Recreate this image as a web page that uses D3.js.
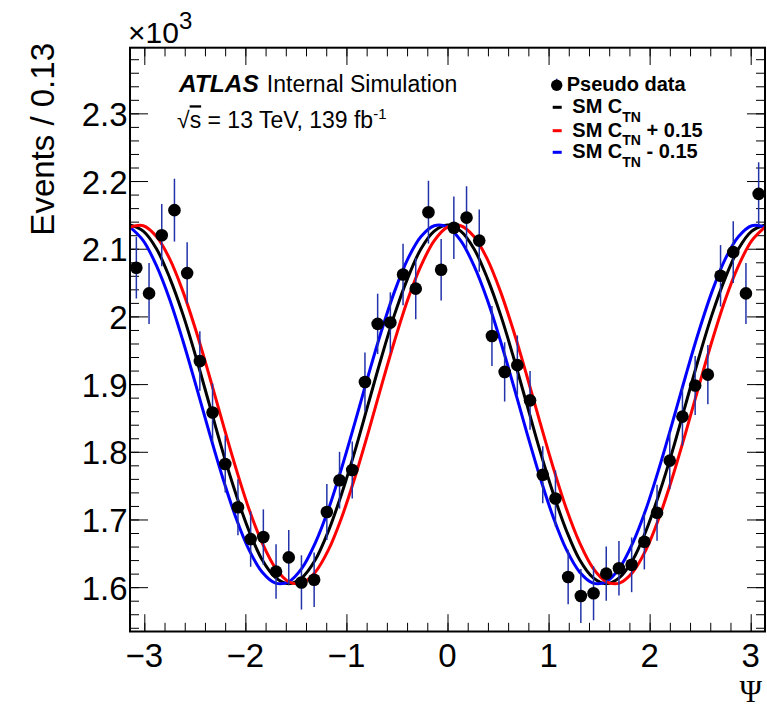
<!DOCTYPE html>
<html lang="en">
  <head>
    <meta charset="UTF-8" />
    <title>Psi distribution</title>
    <script src="https://d3js.org/d3.v7.min.js"></script>
    <style>
      body { margin: 0; background: #fff; }
      svg text { font-family: 'Liberation Sans', Arial, Helvetica, sans-serif; fill: #000; }
      .axis path { display: none; }
      .axis line { stroke: #000; stroke-width: 1; }
    </style>
  </head>
  <body>
    <svg id="chart"></svg>

    <script>
      // pseudo data, 50 bins over [-pi, pi], in units of 10^3 events
      let dataCounts = [
        2.072, 2.034, 2.120, 2.157, 2.064, 1.934, 1.858, 1.782, 1.718, 1.671,
        1.674, 1.623, 1.644, 1.607, 1.611, 1.711, 1.758, 1.773, 1.903, 1.989,
        1.991, 2.062, 2.041, 2.154, 2.069, 2.131, 2.146, 2.112, 1.971, 1.918,
        1.928, 1.876, 1.766, 1.731, 1.615, 1.587, 1.591, 1.620, 1.628, 1.633,
        1.667, 1.710, 1.787, 1.852, 1.898, 1.914, 2.060, 2.095, 2.034, 2.181
      ]

      // templates, 49 samples from -pi to pi
      let smCurve = [
        2.135, 2.126, 2.100, 2.057, 2.003, 1.939, 1.870, 1.801, 1.738, 1.683,
        1.640, 1.614, 1.605, 1.614, 1.640, 1.683, 1.738, 1.801, 1.870, 1.939,
        2.003, 2.057, 2.100, 2.126, 2.135, 2.126, 2.100, 2.057, 2.003, 1.939,
        1.870, 1.801, 1.738, 1.683, 1.640, 1.614, 1.605, 1.614, 1.640, 1.683,
        1.738, 1.801, 1.870, 1.939, 2.003, 2.057, 2.100, 2.126, 2.135
      ]
      let smPlusCurve = [
        2.132, 2.134, 2.118, 2.085, 2.037, 1.978, 1.912, 1.843, 1.776, 1.715,
        1.665, 1.628, 1.608, 1.606, 1.622, 1.655, 1.703, 1.762, 1.828, 1.897,
        1.964, 2.025, 2.075, 2.112, 2.132, 2.134, 2.118, 2.085, 2.037, 1.978,
        1.912, 1.843, 1.776, 1.715, 1.665, 1.628, 1.608, 1.606, 1.622, 1.655,
        1.703, 1.762, 1.828, 1.897, 1.964, 2.025, 2.075, 2.112, 2.132
      ]
      let smMinusCurve = [
        2.132, 2.112, 2.075, 2.025, 1.964, 1.897, 1.828, 1.762, 1.703, 1.655,
        1.622, 1.606, 1.608, 1.628, 1.665, 1.715, 1.776, 1.843, 1.912, 1.978,
        2.037, 2.085, 2.118, 2.134, 2.132, 2.112, 2.075, 2.025, 1.964, 1.897,
        1.828, 1.762, 1.703, 1.655, 1.622, 1.606, 1.608, 1.628, 1.665, 1.715,
        1.776, 1.843, 1.912, 1.978, 2.037, 2.085, 2.118, 2.134, 2.132
      ]

      let xTicks = [-3, -2, -1, 0, 1, 2, 3]
      let yTicks = [1.6, 1.7, 1.8, 1.9, 2.0, 2.1, 2.2, 2.3]

      let width = 767
      let height = 708
      let frame = { left: 130, right: 765, top: 47.7, bottom: 631.5 }

      let nBins = dataCounts.length
      let binWidth = 2 * Math.PI / nBins
      let binCenters = d3.range(nBins).map(j => -Math.PI + (j + 0.5) * binWidth)
      let curveX = d3.range(smCurve.length).map(i => -Math.PI + i * 2 * Math.PI / (smCurve.length - 1))

      let x = d3.scaleLinear().domain([-Math.PI, Math.PI]).range([frame.left, frame.right])
      let y = d3.scaleLinear().domain([1.5345, 2.397]).range([frame.bottom, frame.top])

      let svg = d3.select('#chart').attr('width', width).attr('height', height)

      svg.append('clipPath').attr('id', 'frameClip')
        .append('rect')
        .attr('x', frame.left).attr('y', frame.top)
        .attr('width', frame.right - frame.left)
        .attr('height', frame.bottom - frame.top)

      // ticks on all four sides, pointing inwards
      let xMinor = d3.range(-15, 16).map(k => k * 0.2)
      let yMinor = d3.range(77, 120).map(k => k * 0.02)

      let addTicks = (axisFn, scale, values, size, transform) => {
        svg.append('g')
          .attr('class', 'axis')
          .attr('transform', transform)
          .call(axisFn(scale).tickValues(values).tickSize(-size).tickFormat(''))
      }
      addTicks(d3.axisBottom, x, xMinor, 8.7, `translate(0,${frame.bottom})`)
      addTicks(d3.axisBottom, x, xTicks, 17.3, `translate(0,${frame.bottom})`)
      addTicks(d3.axisTop, x, xMinor, 8.7, `translate(0,${frame.top})`)
      addTicks(d3.axisTop, x, xTicks, 17.3, `translate(0,${frame.top})`)
      addTicks(d3.axisLeft, y, yMinor, 9, `translate(${frame.left},0)`)
      addTicks(d3.axisLeft, y, yTicks, 18, `translate(${frame.left},0)`)
      addTicks(d3.axisRight, y, yMinor, 9, `translate(${frame.right},0)`)
      addTicks(d3.axisRight, y, yTicks, 18, `translate(${frame.right},0)`)

      let fmt = d3.format('~g')

      svg.append('g').selectAll('text')
        .data(xTicks).enter()
        .append('text')
        .attr('x', d => x(d))
        .attr('y', 667)
        .attr('text-anchor', 'middle')
        .style('font-size', '33px')
        .text(d => fmt(d))

      svg.append('g').selectAll('text')
        .data(yTicks).enter()
        .append('text')
        .attr('x', 127.5)
        .attr('y', d => y(d) + 12.5)
        .attr('text-anchor', 'end')
        .style('font-size', '33px')
        .text(d => fmt(d))

      // axis titles
      svg.append('text')
        .attr('transform', 'translate(53.5,43) rotate(-90)')
        .attr('text-anchor', 'end')
        .style('font-size', '33px')
        .text('Events / 0.13')

      let expo = svg.append('text').attr('x', 128).attr('y', 42.5).style('font-size', '30px')
      expo.append('tspan').text('\u00d710')
      expo.append('tspan').attr('dy', -14).style('font-size', '24px').text('3')

      svg.append('text')
        .attr('x', 762).attr('y', 701.5)
        .attr('text-anchor', 'end')
        .style('font-family', "'Liberation Serif', 'DejaVu Serif', serif")
        .style('font-size', '30.5px')
        .text('\u03a8')

      // model curves
      let line = d3.line()
        .x((d, i) => x(curveX[i]))
        .y(d => y(d))
        .curve(d3.curveCatmullRom)

      let curves = [
        { values: smCurve, color: '#000000' },
        { values: smMinusCurve, color: '#0000ff' },
        { values: smPlusCurve, color: '#ff0000' },
      ]

      svg.append('g')
        .attr('clip-path', 'url(#frameClip)')
        .selectAll('path')
        .data(curves).enter()
        .append('path')
        .attr('d', d => line(d.values))
        .style('fill', 'none')
        .style('stroke', d => d.color)
        .style('stroke-width', 3)

      // pseudo data with poisson errors
      let errOf = v => Math.sqrt(v * 1000) / 1000

      let points = svg.append('g')
      points.selectAll('line')
        .data(dataCounts).enter()
        .append('line')
        .attr('x1', (d, j) => x(binCenters[j]))
        .attr('x2', (d, j) => x(binCenters[j]))
        .attr('y1', d => y(d - errOf(d)))
        .attr('y2', d => y(d + errOf(d)))
        .style('stroke', '#2233aa')
        .style('stroke-width', 1.5)

      points.selectAll('circle')
        .data(dataCounts).enter()
        .append('circle')
        .attr('cx', (d, j) => x(binCenters[j]))
        .attr('cy', d => y(d))
        .attr('r', 6.3)
        .style('fill', '#000')

      // frame
      svg.append('rect')
        .attr('x', frame.left).attr('y', frame.top)
        .attr('width', frame.right - frame.left)
        .attr('height', frame.bottom - frame.top)
        .style('fill', 'none')
        .style('stroke', '#000')
        .style('stroke-width', 2)

      // ATLAS label
      let atlas = svg.append('text').attr('x', 179).attr('y', 92.3).style('font-size', '23px')
      atlas.append('tspan').style('font-weight', 'bold').style('font-style', 'italic')
        .style('font-size', '24.5px').text('ATLAS')
      atlas.append('tspan').attr('dx', 8).text('Internal Simulation')

      let energy = svg.append('text').attr('x', 177).attr('y', 128.3).style('font-size', '23px')
      energy.append('tspan').text('\u221a')
      energy.append('tspan').style('text-decoration', 'overline').text('s')
      energy.append('tspan').text(' = 13 TeV, 139 fb')
      energy.append('tspan').attr('dy', -9).style('font-size', '15px').text('-1')

      // legend
      let legend = svg.append('g')
      let rowY = [90.7, 113.3, 136.7, 158.3]

      legend.append('line')
        .attr('x1', 556.7).attr('x2', 556.7)
        .attr('y1', rowY[0] - 12).attr('y2', rowY[0] - 2)
        .style('stroke', '#2233aa').style('stroke-width', 1.5)
      legend.append('circle')
        .attr('cx', 556.7).attr('cy', rowY[0] - 5.5).attr('r', 5.7)
        .style('fill', '#000')
      legend.append('text')
        .attr('x', 566.7).attr('y', rowY[0])
        .style('font-size', '20px').style('font-weight', 'bold')
        .text('Pseudo data')

      let legendRows = [
        { color: '#000000', suffix: '' },
        { color: '#ff0000', suffix: ' + 0.15' },
        { color: '#0000ff', suffix: ' - 0.15' },
      ]
      legendRows.forEach((r, i) => {
        let yy = rowY[i + 1]
        legend.append('line')
          .attr('x1', 552.7).attr('x2', 561.7)
          .attr('y1', yy - 6).attr('y2', yy - 6)
          .style('stroke', r.color).style('stroke-width', 3)
        let t = legend.append('text')
          .attr('x', 572.3).attr('y', yy)
          .style('font-size', '20px').style('font-weight', 'bold')
        t.append('tspan').text('SM C')
        t.append('tspan').attr('dy', 8.5).style('font-size', '14px').text('TN')
        if (r.suffix) t.append('tspan').attr('dy', -8.5).text(r.suffix)
      })
    </script>
  </body>
</html>
